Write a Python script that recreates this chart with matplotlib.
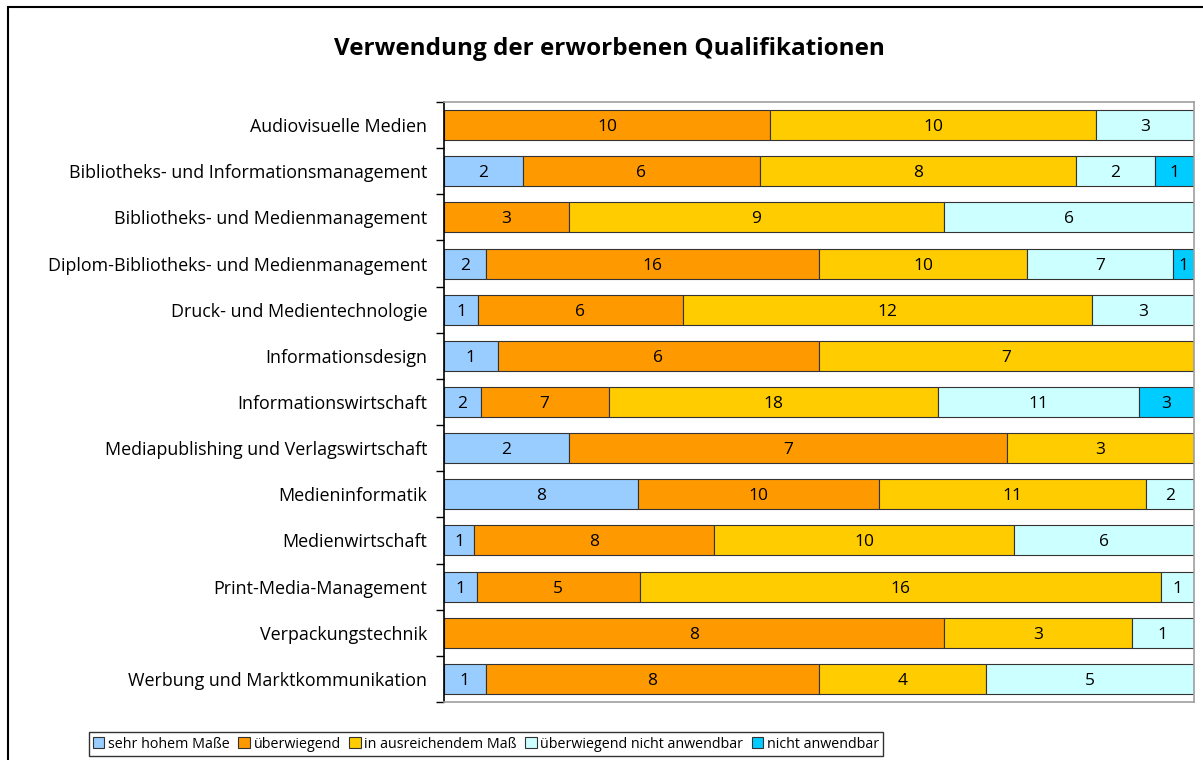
import matplotlib.pyplot as plt
import numpy as np
from matplotlib.patches import Rectangle

plt.rcParams['font.family'] = ['Open Sans', 'DejaVu Sans']

categories = [
    'Audiovisuelle Medien',
    'Bibliotheks- und Informationsmanagement',
    'Bibliotheks- und Medienmanagement',
    'Diplom-Bibliotheks- und Medienmanagement',
    'Druck- und Medientechnologie',
    'Informationsdesign',
    'Informationswirtschaft',
    'Mediapublishing und Verlagswirtschaft',
    'Medieninformatik',
    'Medienwirtschaft',
    'Print-Media-Management',
    'Verpackungstechnik',
    'Werbung und Marktkommunikation',
]
series_names = ['sehr hohem Maße', 'überwiegend', 'in ausreichendem Maß',
                'überwiegend nicht anwendbar', 'nicht anwendbar']
sehr_hoch = [0, 2, 0, 2, 1, 1, 2, 2, 8, 1, 1, 0, 1]
ueberwiegend = [10, 6, 3, 16, 6, 6, 7, 7, 10, 8, 5, 8, 8]
ausreichend = [10, 8, 9, 10, 12, 7, 18, 3, 11, 10, 16, 3, 4]
ueberw_nicht = [3, 2, 6, 7, 3, 0, 11, 0, 2, 6, 1, 1, 5]
nicht = [0, 1, 0, 1, 0, 0, 3, 0, 0, 0, 0, 0, 0]
colors = ['#99CCFF', '#FF9900', '#FFCC00', '#CCFFFF', '#00CCFF']

data = np.array([sehr_hoch, ueberwiegend, ausreichend, ueberw_nicht, nicht], dtype=float)
totals = data.sum(axis=0)
pct = data / totals * 100

fig = plt.figure(figsize=(12.03, 7.6), dpi=100)
ax = fig.add_axes([444/1203, 1 - 702/760, 750/1203, 600/760])

y = np.arange(len(categories))
left = np.zeros(len(categories))
for i, name in enumerate(series_names):
    ax.barh(y, pct[i], left=left, height=0.65, color=colors[i],
            edgecolor='#333333', linewidth=0.8, label=name)
    for j in range(len(categories)):
        if data[i, j] > 0:
            ax.text(left[j] + pct[i, j] / 2, y[j], f'{int(data[i, j])}',
                    ha='center', va='center_baseline', fontsize=12.5, color='black')
    left += pct[i]

ax.set_xlim(0, 100)
ax.set_ylim(len(categories) - 0.5, -0.5)
ax.set_yticks(y)
ax.set_yticklabels(categories, fontsize=12.9, va='center_baseline')
ax.set_yticks(np.arange(-0.5, len(categories)), minor=True)
ax.tick_params(axis='y', which='major', length=0, pad=12)
ax.tick_params(axis='y', which='minor', length=6, width=1, color='black')
ax.set_xticks([])
for s in ['top', 'right', 'bottom']:
    ax.spines[s].set_color('#A0A0A0')
    ax.spines[s].set_linewidth(1.2)
ax.spines['left'].set_color('black')
ax.spines['left'].set_linewidth(1.2)

fig.text(609/1203, 1 - 49/760, 'Verwendung der erworbenen Qualifikationen',
         ha='center', va='center', fontsize=17.5, fontweight='bold')

leg = fig.legend(loc='center', bbox_to_anchor=(486/1203, 1 - 744/760), ncol=5,
                 fontsize=10.3, frameon=True, fancybox=False, edgecolor='black',
                 handlelength=0.8, handleheight=0.8, handletextpad=0.25,
                 columnspacing=0.6, borderpad=0.3, borderaxespad=0)
leg.get_frame().set_linewidth(1.0)

fig.patches.append(Rectangle((8/1203, -0.1), 1.2, 1 - 7/760 + 0.1,
                             transform=fig.transFigure, fill=False,
                             edgecolor='black', linewidth=1.5))

fig.savefig('out.png', dpi=100)
